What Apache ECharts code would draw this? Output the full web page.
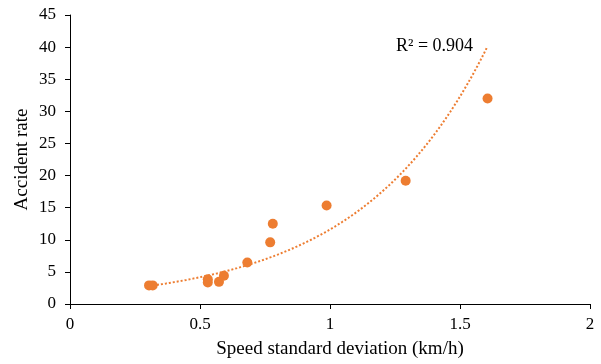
<!DOCTYPE html>
<html>
<head>
<meta charset="utf-8">
<script src="https://cdn.jsdelivr.net/npm/echarts@6/dist/echarts.min.js"></script>
<style>
html,body{margin:0;padding:0;background:#fff;}
#chart{width:601px;height:364px;}
</style>
</head>
<body>
<div id="chart"></div>
<script>
// Data
var speedSD = [0.304, 0.318, 0.530, 0.530, 0.573, 0.592, 0.682, 0.770, 0.780, 0.987, 1.291, 1.606];
var accidentRate = [2.9, 2.9, 3.85, 3.35, 3.45, 4.4, 6.45, 9.6, 12.5, 15.35, 19.2, 32.0];
var xTicks = [0, 0.5, 1, 1.5, 2];
var yTicks = [0, 5, 10, 15, 20, 25, 30, 35, 40, 45];
var r2Label = 'R² = 0.904';
var xTitle = 'Speed standard deviation (km/h)';
var yTitle = 'Accident rate';

// Exponential trendline (least squares on ln y), as in the spreadsheet trendline
function expFit(xs, ys) {
  var n = xs.length, mx = 0, my = 0;
  for (var i = 0; i < n; i++) { mx += xs[i]; my += Math.log(ys[i]); }
  mx /= n; my /= n;
  var sxy = 0, sxx = 0;
  for (var j = 0; j < n; j++) {
    sxy += (xs[j] - mx) * (Math.log(ys[j]) - my);
    sxx += (xs[j] - mx) * (xs[j] - mx);
  }
  var b = sxy / sxx;
  return { a: Math.exp(my - b * mx), b: b };
}
var fit = expFit(speedSD, accidentRate);
var xMin = Math.min.apply(null, speedSD), xMax = Math.max.apply(null, speedSD);
var trend = [];
for (var k = 0; k <= 100; k++) {
  var xv = xMin + (xMax - xMin) * k / 100;
  trend.push([xv, fit.a * Math.exp(fit.b * xv)]);
}
var points = speedSD.map(function (x, i) { return [x, accidentRate[i]]; });

var FONT = '"Liberation Serif","Times New Roman",serif';
var ORANGE = '#ED7D31';
var chart = echarts.init(document.getElementById('chart'), null, { renderer: 'canvas' });
chart.setOption({
  animation: false,
  backgroundColor: '#fff',
  grid: { left: 70, right: 11, top: 15, bottom: 58 },
  xAxis: {
    type: 'value', min: xTicks[0], max: xTicks[xTicks.length - 1], interval: 0.5,
    name: xTitle, nameLocation: 'middle', nameGap: 36,
    nameTextStyle: { fontFamily: FONT, fontSize: 19, color: '#000', padding: [0, 0, 0, 20] },
    axisLine: { show: true, onZero: false, lineStyle: { color: '#000', width: 1 } },
    axisTick: { show: true, length: 5, lineStyle: { color: '#000' } },
    axisLabel: { fontFamily: FONT, fontSize: 17, color: '#000', margin: 12 },
    splitLine: { show: false }
  },
  yAxis: {
    type: 'value', min: yTicks[0], max: yTicks[yTicks.length - 1], interval: 5,
    name: yTitle, nameLocation: 'middle', nameGap: 38, nameMoveOverlap: false,
    nameTextStyle: { fontFamily: FONT, fontSize: 19, color: '#000' },
    axisLine: { show: true, lineStyle: { color: '#000', width: 1 } },
    axisTick: { show: true, length: 5, lineStyle: { color: '#000' } },
    axisLabel: { fontFamily: FONT, fontSize: 17, color: '#000', margin: 14 },
    splitLine: { show: false }
  },
  graphic: [{
    type: 'text', left: 396, top: 37,
    style: { text: r2Label, fontFamily: FONT, fontSize: 18, fill: '#000' }
  }],
  series: [{
    type: 'line', data: trend, showSymbol: false, symbol: 'none', smooth: false,
    lineStyle: { color: ORANGE, width: 2, type: [2, 2] }, z: 1
  }, {
    type: 'scatter', data: points, symbol: 'circle', symbolSize: 10,
    itemStyle: { color: ORANGE, opacity: 1 }, z: 2
  }]
});
</script>
</body>
</html>
